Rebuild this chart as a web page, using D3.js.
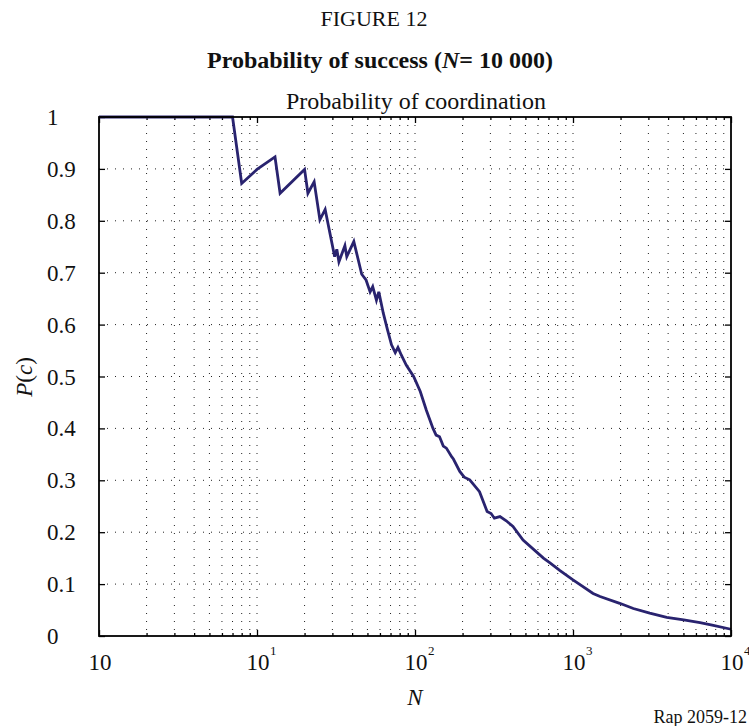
<!DOCTYPE html>
<html lang="en">
<head>
<meta charset="UTF-8">
<title>Figure 12 - Probability of success</title>
<style>
    body{ margin:0; background:#fff;}
    svg{ display:block;}
    text{ font-family:"Liberation Serif", "Times New Roman", serif; fill:#111;}
    .domain{ display:none;}
    .tick line{ stroke:#000; stroke-width:1.3;}
    .grid line{ stroke:#222; stroke-width:1; stroke-dasharray:1,7;}
</style>
</head>
<body>
<script src="https://cdn.jsdelivr.net/npm/d3@7"></script>
<script>

var nValues = [1, 7, 8, 10, 13, 14, 20, 21, 23, 25, 27, 31, 32, 33, 36, 37, 41, 42, 46, 49,
    52, 54, 57, 59, 63, 67, 71, 75, 78, 82, 88, 98, 108, 118, 130, 136, 143, 151, 158, 171, 175,
    192, 205, 222, 256, 286, 303, 318, 345, 378, 417, 483, 650, 715, 828, 1000, 1340, 1483, 1975,
    2410, 3060, 3917, 5020, 6368, 7600, 10000];
var pValues = [1, 1, 0.872, 0.899, 0.923, 0.853, 0.899, 0.853, 0.875, 0.802, 0.822, 0.731, 0.745, 0.721, 0.752, 0.731, 0.760, 0.747, 0.697, 0.686,
    0.663, 0.673, 0.647, 0.663, 0.622, 0.590, 0.561, 0.546, 0.556, 0.541, 0.522, 0.500, 0.471, 0.435, 0.400, 0.387, 0.384, 0.366, 0.362, 0.345, 0.341,
    0.317, 0.306, 0.301, 0.278, 0.240, 0.236, 0.227, 0.230, 0.222, 0.211, 0.185, 0.150, 0.141, 0.126, 0.108, 0.082, 0.076, 0.063,
    0.053, 0.044, 0.036, 0.031, 0.026, 0.021, 0.013];

var xMajor = [1, 10, 100, 1000, 10000];
var xExponents = ["", "1", "2", "3", "4"];
var yTicks = [0, 0.1, 0.2, 0.3, 0.4, 0.5, 0.6, 0.7, 0.8, 0.9, 1];

var W = 749, H = 726;
var pL = 99, pR = 731, pT = 117, pB = 636;

var svg = d3.select("body").append("svg")
    .attr("width", W)
    .attr("height", H);

var x = d3.scaleLog().domain([1, 10000]).range([pL, pR]);
var y = d3.scaleLinear().domain([0, 1]).range([pB, pT]);

// minor log positions 2..9 in each decade
var xMinor = [];
for (var d = 1; d < 10000; d *= 10) {
    for (var k = 2; k <= 9; k++) xMinor.push(d * k);
}

//grid
svg.append("g").attr("class", "grid")
    .selectAll("line").data(xMinor.concat([10, 100, 1000]))
    .enter().append("line")
    .attr("x1", function(v){ return x(v); }).attr("x2", function(v){ return x(v); })
    .attr("y1", pT).attr("y2", pB);

svg.append("g").attr("class", "grid")
    .selectAll("line").data(yTicks.slice(1, 10))
    .enter().append("line")
    .attr("x1", pL).attr("x2", pR)
    .attr("y1", function(v){ return y(v); }).attr("y2", function(v){ return y(v); });

//ticks (inward)
svg.append("g").attr("transform", "translate(0," + pB + ")")
    .call(d3.axisBottom(x).tickValues(xMajor).tickSize(-6).tickFormat(""));
svg.append("g").attr("transform", "translate(0," + pB + ")")
    .call(d3.axisBottom(x).tickValues(xMinor).tickSize(-3).tickFormat(""));
svg.append("g").attr("transform", "translate(0," + pT + ")")
    .call(d3.axisTop(x).tickValues(xMajor).tickSize(-6).tickFormat(""));
svg.append("g").attr("transform", "translate(0," + pT + ")")
    .call(d3.axisTop(x).tickValues(xMinor).tickSize(-3).tickFormat(""));
svg.append("g").attr("transform", "translate(" + pL + ",0)")
    .call(d3.axisLeft(y).tickValues(yTicks).tickSize(-6).tickFormat(""));
svg.append("g").attr("transform", "translate(" + pR + ",0)")
    .call(d3.axisRight(y).tickValues(yTicks).tickSize(-6).tickFormat(""));

//y labels
svg.append("g").selectAll("text").data(yTicks)
    .enter().append("text")
    .attr("x", 47).attr("y", function(v){ return y(v) + 8; })
    .style("font-size", "23px")
    .text(function(v){ return v === 0 || v === 1 ? String(v) : v.toFixed(1); });

//x labels: 10 with superscript
var xl = svg.append("g").selectAll("g").data(xMajor)
    .enter().append("g")
    .attr("transform", function(v){ return "translate(" + x(v) + ",670)"; });
xl.append("text").attr("text-anchor", "middle").attr("x", 1)
    .style("font-size", "23px").text("10");
xl.append("text").attr("x", 13).attr("y", -15)
    .style("font-size", "13px")
    .text(function(v, i){ return xExponents[i]; });

//curve
var line = d3.line()
    .x(function(d){ return x(d[0]); })
    .y(function(d){ return y(d[1]); });

svg.append("path")
    .datum(nValues.map(function(n, i){ return [n, pValues[i]]; }))
    .attr("d", line)
    .attr("fill", "none")
    .attr("stroke", "#29236f")
    .attr("stroke-width", 2.8)
    .attr("stroke-linejoin", "miter");

//frame
svg.append("rect")
    .attr("x", pL).attr("y", pT)
    .attr("width", pR - pL).attr("height", pB - pT)
    .attr("fill", "none").attr("stroke", "#000").attr("stroke-width", 1.8);

//titles
svg.append("text").attr("x", 374).attr("y", 26).attr("text-anchor", "middle")
    .style("font-size", "22px").text("FIGURE 12");

var t2 = svg.append("text").attr("x", 380).attr("y", 68).attr("text-anchor", "middle")
    .style("font-size", "24px").style("font-weight", "bold");
t2.append("tspan").text("Probability of success (");
t2.append("tspan").style("font-style", "italic").text("N");
t2.append("tspan").text("= 10 000)");

svg.append("text").attr("x", 416).attr("y", 109).attr("text-anchor", "middle")
    .style("font-size", "24px").text("Probability of coordination");

//axis titles
var yt = svg.append("text")
    .attr("transform", "translate(32,377) rotate(-90)")
    .attr("text-anchor", "middle").style("font-size", "23px");
yt.append("tspan").style("font-style", "italic").text("P");
yt.append("tspan").text("(");
yt.append("tspan").style("font-style", "italic").text("c");
yt.append("tspan").text(")");

svg.append("text").attr("x", 415).attr("y", 705).attr("text-anchor", "middle")
    .style("font-size", "23px").style("font-style", "italic").text("N");

svg.append("text").attr("x", 747).attr("y", 723).attr("text-anchor", "end")
    .style("font-size", "18px").text("Rap 2059-12");

</script>
</body>
</html>
